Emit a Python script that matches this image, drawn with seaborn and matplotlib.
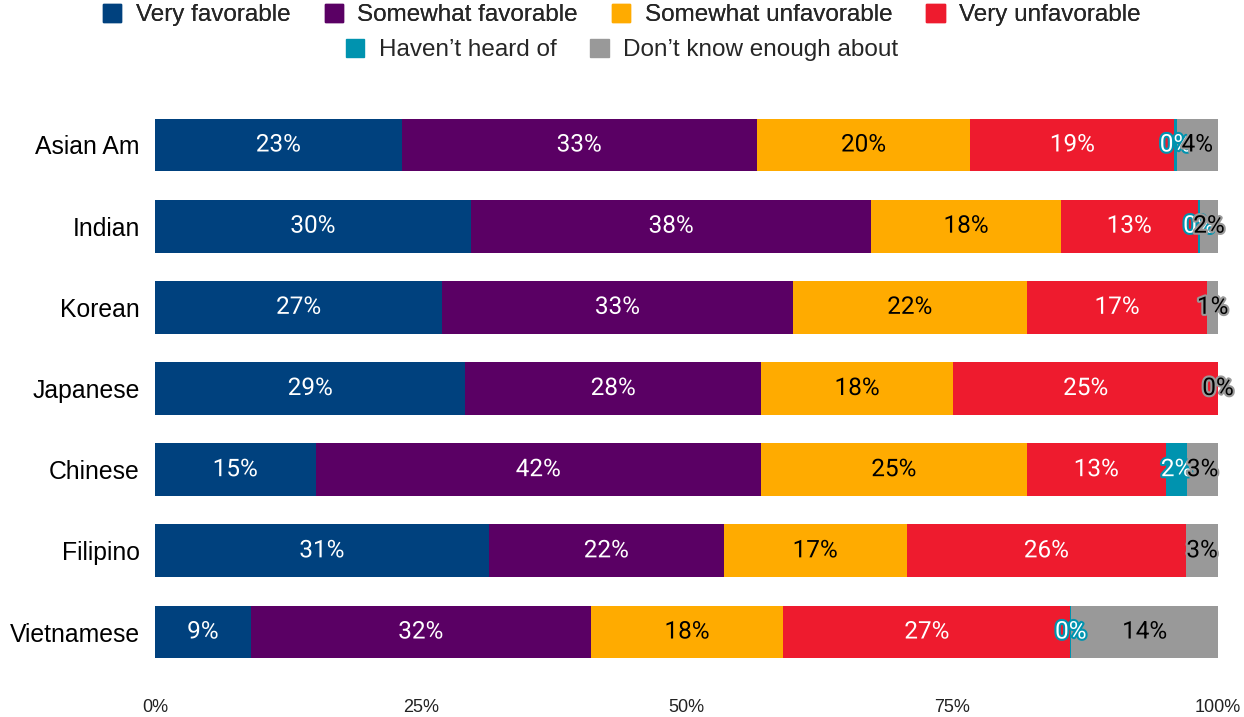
import numpy as np
import pandas as pd
import matplotlib
matplotlib.use("Agg")
import matplotlib.pyplot as plt
import matplotlib.patheffects as pe
from matplotlib.patches import Patch
from matplotlib import font_manager
import seaborn as sns

groups = ["Asian Am", "Indian", "Korean", "Japanese", "Chinese", "Filipino", "Vietnamese"]
very_fav = [23.2, 29.7, 27.0, 29.2, 15.1, 31.4, 9.0]
somewhat_fav = [33.4, 37.7, 33.0, 27.8, 41.9, 22.1, 32.0]
somewhat_unfav = [20.1, 17.8, 22.0, 18.1, 25.0, 17.2, 18.1]
very_unfav = [19.2, 12.9, 17.0, 24.9, 13.1, 26.3, 27.0]
havent_heard = [0.2, 0.2, np.nan, np.nan, 2.0, np.nan, 0.1]
dont_know = [3.9, 1.7, 1.0, 0.0, 2.9, 3.0, 13.8]

series_names = ["Very favorable", "Somewhat favorable", "Somewhat unfavorable",
                "Very unfavorable", "Haven\u2019t heard of", "Don\u2019t know enough about"]
series_vals = [very_fav, somewhat_fav, somewhat_unfav, very_unfav, havent_heard, dont_know]
colors = ["#00417E", "#5A0064", "#FFAB00", "#EE1B2E", "#0093AF", "#999999"]
text_colors = ["white", "white", "black", "white", "white", "black"]
xticks = [0, 25, 50, 75, 100]
xticklabels = ["0%", "25%", "50%", "75%", "100%"]

sns.set_theme(style="white")
avail = {f.name for f in font_manager.fontManager.ttflist}
base_font = "Liberation Sans" if "Liberation Sans" in avail else "DejaVu Sans"
narrow_font = "Liberation Sans Narrow" if "Liberation Sans Narrow" in avail else base_font
label_font = "Roboto" if "Roboto" in avail else base_font
plt.rcParams["font.family"] = [base_font, "DejaVu Sans"]

df = pd.DataFrame({n: v for n, v in zip(series_names, series_vals)})
df.insert(0, "group", groups)
filled = df[series_names].fillna(0.0)
cum = filled.cumsum(axis=1)

fig = plt.figure(figsize=(12.44, 7.17), dpi=100)
ax = fig.add_axes([155 / 1244, 1 - 672.6 / 717, (1218 - 155) / 1244, (672.6 - 104.4) / 717])

# stacked bars: draw cumulative totals from the last series to the first
for i in range(len(series_names) - 1, -1, -1):
    sns.barplot(x=cum[series_names[i]], y=df["group"], orient="h", color=colors[i],
                width=0.65, ax=ax, linewidth=0, saturation=1)

# labels
for i, name in enumerate(series_names):
    for j, g in enumerate(groups):
        v = df[name].iloc[j]
        if pd.isna(v):
            continue
        center = cum[name].iloc[j] - filled[name].iloc[j] / 2
        t = ax.text(center, j, f"{int(round(v))}%", ha="center", va="center",
                    fontsize=17.5, color=text_colors[i], family=label_font)
        t.set_path_effects([pe.withStroke(linewidth=3, foreground=colors[i])])

ax.set_xlim(0, 100)
ax.set_ylim(6.5, -0.5)
ax.set_xlabel("")
ax.set_ylabel("")
ax.set_xticks(xticks)
ax.set_xticklabels(xticklabels, fontsize=13, family=narrow_font, color="#222222")
ax.tick_params(axis="x", length=0, pad=19)
ax.tick_params(axis="y", length=0, pad=11, labelsize=17.8, labelcolor="black")
for s in ax.spines.values():
    s.set_visible(False)

handles = [Patch(facecolor=c, edgecolor=c) for c in colors]
leg1 = fig.legend(handles[:4], series_names[:4], loc="center", bbox_to_anchor=(0.5, 1 - 15 / 717),
                  ncol=4, frameon=False, fontsize=17.5, handlelength=0.75, handleheight=0.75,
                  handletextpad=0.6, columnspacing=1.4, borderaxespad=0)
leg2 = fig.legend(handles[4:], series_names[4:], loc="center", bbox_to_anchor=(0.5, 1 - 50 / 717),
                  ncol=2, frameon=False, fontsize=17.5, handlelength=0.75, handleheight=0.75,
                  handletextpad=0.6, columnspacing=1.4, borderaxespad=0)
fig.add_artist(leg1)

fig.savefig("out.png", dpi=100)
